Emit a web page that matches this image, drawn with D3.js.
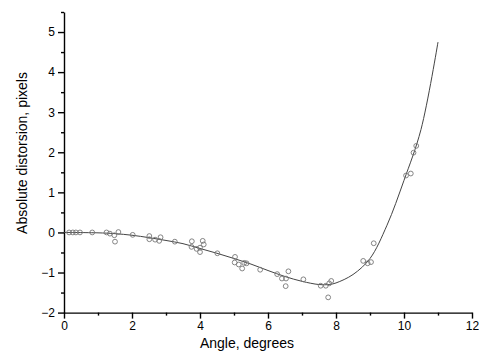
<!DOCTYPE html>
<html><head><meta charset="utf-8">
<script src="https://cdn.jsdelivr.net/npm/d3@7"></script>
<style>body{margin:0;background:#fff}svg{display:block}</style>
</head><body>
<script>
const pointX = [0.15,0.26,0.35,0.47,0.83,1.25,1.35,1.48,1.5,1.6,2.02,2.51,2.51,2.68,2.8,2.84,3.26,3.76,3.75,3.9,4.0,4.0,4.08,4.11,4.51,5.03,5.02,5.14,5.24,5.3,5.37,5.77,6.27,6.41,6.53,6.52,6.6,7.04,7.55,7.7,7.77,7.8,7.86,8.8,8.93,9.03,9.11,10.06,10.2,10.28,10.36];
const pointY = [0,0,0,0,0,0,-0.03,-0.07,-0.23,0.01,-0.06,-0.09,-0.17,-0.18,-0.21,-0.12,-0.23,-0.22,-0.36,-0.41,-0.49,-0.38,-0.21,-0.30,-0.52,-0.61,-0.75,-0.8,-0.9,-0.76,-0.77,-0.93,-1.04,-1.15,-1.15,-1.34,-0.97,-1.17,-1.33,-1.33,-1.62,-1.27,-1.21,-0.71,-0.77,-0.74,-0.27,1.42,1.47,1.99,2.16];
const fitX = [0,1,1.5,2,2.5,3,3.5,4,4.5,5,5.5,6,6.5,7,7.5,7.8,8,8.5,9,9.5,10,10.5,11];
const fitY = [0,-0.01,-0.03,-0.07,-0.13,-0.2,-0.28,-0.4,-0.52,-0.65,-0.79,-0.95,-1.1,-1.22,-1.3,-1.3,-1.26,-1.05,-0.65,0.18,1.3,2.57,4.75];
const xTicks = [0,2,4,6,8,10,12];
const yTicks = [-2,-1,0,1,2,3,4,5];
const xLabel = "Angle, degrees";
const yLabel = "Absolute distorsion, pixels";

const W=479,H=356;
const svg=d3.select("body").append("svg").attr("width",W).attr("height",H)
  .style("font-family","'Liberation Sans', Arial, sans-serif");
const x=d3.scaleLinear().domain([0,12]).range([64,472]);
const y=d3.scaleLinear().domain([-2,5.5]).range([312.6,12]);

// minor ticks
const gx=svg.append("g").attr("transform","translate(0,312.6)");
gx.call(d3.axisBottom(x).tickValues(d3.range(1,12,2)).tickSize(3).tickFormat(""));
gx.call(g=>g.select(".domain").remove());
const gx2=svg.append("g").attr("transform","translate(0,312.6)")
  .call(d3.axisBottom(x).tickValues(xTicks).tickSize(6).tickSizeOuter(0).tickPadding(3).tickFormat(d3.format("d")));
gx2.selectAll("text").attr("font-size",12).attr("fill","#000");
[gx,gx2].forEach(g=>g.selectAll("line,path").attr("stroke","#000").attr("stroke-width",1.4));

const gy=svg.append("g").attr("transform","translate(64,0)");
gy.call(d3.axisLeft(y).tickValues(d3.range(-1.5,5.6,1)).tickSize(3).tickFormat(""));
gy.call(g=>g.select(".domain").remove());
const gy2=svg.append("g").attr("transform","translate(64,0)")
  .call(d3.axisLeft(y).tickValues(yTicks).tickSize(6).tickSizeOuter(0).tickPadding(3).tickFormat(d3.format("d")));
gy2.selectAll("text").attr("font-size",12).attr("fill","#000");
[gy,gy2].forEach(g=>g.selectAll("line,path").attr("stroke","#000").attr("stroke-width",1.4));

// fit curve
const line=d3.line().x((d,i)=>x(fitX[i])).y((d,i)=>y(fitY[i])).curve(d3.curveCatmullRom.alpha(0.5));
svg.append("path").attr("d",line(fitX)).attr("fill","none").attr("stroke","#444").attr("stroke-width",1);

// points
svg.append("g").selectAll("circle").data(pointX).join("circle")
  .attr("cx",(d,i)=>x(pointX[i])).attr("cy",(d,i)=>y(pointY[i])).attr("r",2.4)
  .attr("fill","none").attr("stroke","#777").attr("stroke-width",0.9);

svg.append("text").attr("x",247).attr("y",348).attr("text-anchor","middle")
  .attr("font-size",14).text(xLabel);
svg.append("text").attr("transform","translate(27,153) rotate(-90)").attr("text-anchor","middle")
  .attr("font-size",14).text(yLabel);
</script>
</body></html>
